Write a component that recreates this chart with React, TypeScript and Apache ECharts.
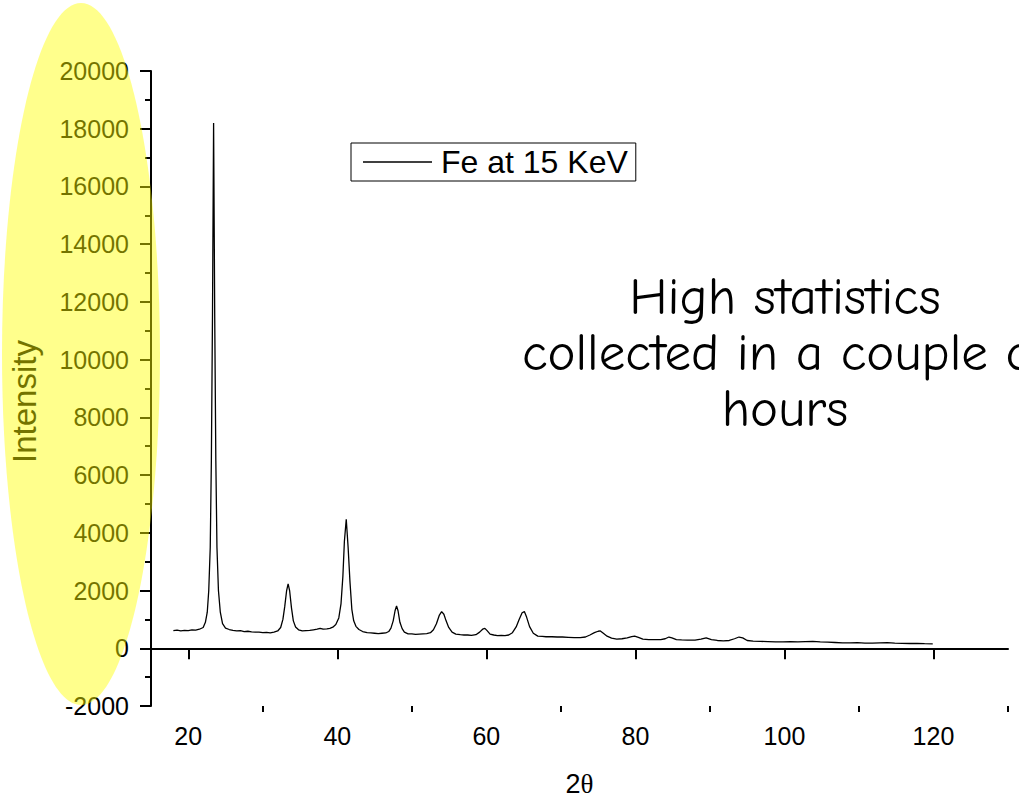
import React, { useEffect, useRef } from "react";
import * as echarts from "echarts";

const twoTheta = [
  18.0, 18.5, 19.0, 19.5, 20.0, 20.5, 21.0, 21.5, 22.0, 22.3, 22.55, 22.75, 22.95, 23.1, 23.25, 23.4, 23.55, 23.7, 23.85, 24.05,
  24.3, 24.6, 25.0, 25.5, 26.0, 26.5, 27.0, 27.5, 28.0, 28.5, 29.0, 29.5, 30.0, 30.5, 31.0, 31.5, 32.0, 32.4, 32.7, 32.95,
  33.2, 33.4, 33.6, 33.85, 34.1, 34.4, 34.8, 35.3, 35.8, 36.3, 36.8, 37.3, 37.7, 38.1, 38.6, 39.0, 39.4, 39.8, 40.2, 40.5,
  40.75, 40.95, 41.2, 41.45, 41.7, 41.95, 42.2, 42.5, 42.9, 43.4, 44.0, 44.5, 45.0, 45.5, 46.0, 46.5, 46.9, 47.2, 47.5, 47.75,
  47.95, 48.15, 48.4, 48.7, 49.0, 49.5, 50.0, 50.5, 51.0, 51.5, 52.0, 52.5, 52.9, 53.3, 53.7, 54.0, 54.3, 54.6, 54.95, 55.4,
  55.9, 56.5, 57.0, 57.5, 58.0, 58.6, 59.1, 59.5, 59.8, 60.1, 60.5, 61.0, 61.5, 62.0, 62.5, 63.0, 63.5, 64.0, 64.4, 64.8,
  65.1, 65.4, 65.8, 66.3, 66.9, 67.5, 68.0, 68.8, 69.5, 70.2, 71.0, 71.8, 72.6, 73.3, 73.9, 74.5, 75.0, 75.3, 75.7, 76.2,
  76.8, 77.5, 78.2, 78.9, 79.5, 79.9, 80.4, 81.0, 81.8, 82.6, 83.4, 84.0, 84.5, 84.9, 85.5, 86.2, 87.0, 88.0, 88.8, 89.5,
  90.2, 91.0, 91.8, 92.6, 93.3, 93.9, 94.4, 95.0, 95.8, 96.8, 97.8, 98.8, 99.8, 100.8, 101.8, 102.8, 103.8, 104.8, 105.8, 106.8,
  107.8, 108.8, 109.8, 110.8, 111.8, 112.8, 113.8, 114.8, 115.8, 116.8, 117.8, 118.8, 119.9,
];

const intensity = [
  610, 630, 600, 620, 610, 640, 630, 660, 720, 900, 1250, 2000, 3500, 6500, 11500, 18200, 11500, 6500, 3500, 2000,
  1250, 850, 700, 650, 620, 600, 610, 580, 590, 570, 560, 560, 540, 550, 530, 560, 600, 720, 1000, 1450,
  2000, 2230, 2000, 1400, 950, 740, 640, 600, 610, 620, 640, 660, 690, 660, 670, 690, 730, 820, 1050, 1550,
  2500, 3700, 4470, 3500, 2300, 1350, 950, 760, 650, 580, 540, 530, 520, 510, 520, 530, 580, 700, 950, 1300,
  1470, 1300, 900, 680, 560, 500, 500, 480, 490, 500, 510, 540, 640, 850, 1150, 1270, 1180, 950, 720, 560,
  490, 470, 460, 460, 450, 470, 560, 660, 690, 610, 490, 460, 440, 450, 440, 460, 540, 740, 1000, 1230,
  1270, 1080, 750, 520, 420, 410, 400, 400, 390, 390, 380, 370, 370, 390, 460, 540, 590, 600, 520, 420,
  350, 320, 330, 360, 400, 420, 380, 320, 300, 300, 300, 330, 390, 360, 300, 290, 280, 280, 320, 360,
  300, 270, 255, 270, 330, 390, 360, 270, 250, 240, 230, 220, 220, 230, 220, 230, 240, 220, 210, 200,
  190, 185, 195, 180, 180, 190, 195, 180, 170, 165, 170, 160, 155,
];

const seriesName = "Fe at 15 KeV";
const xMajorTicks = [20, 40, 60, 80, 100, 120];
const xMinorTicks = [30, 50, 70, 90, 110, 130];
const yTicks = { min: -2000, max: 20000, interval: 2000 };
const noteText = "High statistics\ncollected in a couple of\nhours";

const FONT = "'Liberation Sans', Arial, sans-serif";

export default function App() {
  const ref = useRef<HTMLDivElement>(null);

  useEffect(() => {
    if (!ref.current) return;
    const chart = echarts.init(ref.current, null, { renderer: "svg" });
    const data = twoTheta.map((x, i) => [x, intensity[i]]);

    chart.setOption({
      animation: false,
      backgroundColor: "#ffffff",
      grid: { left: 147, right: 11, top: 71, bottom: 97, containLabel: false },
      legend: {
        left: 351,
        top: 143,
        padding: [3, 8, 3, 12],
        borderColor: "#000",
        borderWidth: 1,
        icon: "rect",
        itemWidth: 69,
        itemHeight: 1.3,
        data: [seriesName],
        itemStyle: { color: "#000" },
        textStyle: { fontFamily: FONT, fontSize: 32, color: "#000", padding: [0, 0, 0, 4] },
      },
      xAxis: [
        {
          type: "value",
          min: 15,
          max: 130,
          position: "bottom",
          name: "{a|2}{b|θ}",
          nameLocation: "middle",
          nameGap: 64,
          nameTextStyle: {
            rich: {
              a: { fontFamily: FONT, fontSize: 27, color: "#000" },
              b: { fontFamily: "'Liberation Serif', 'DejaVu Serif', serif", fontSize: 27, color: "#000" },
            },
          },
          axisLine: { show: true, lineStyle: { color: "#000", width: 2 } },
          axisTick: { show: true, length: 11, lineStyle: { color: "#000", width: 2 }, customValues: xMajorTicks },
          axisLabel: {
            fontFamily: FONT,
            fontSize: 25,
            color: "#000",
            margin: 17,
            customValues: xMajorTicks,
          },
          splitLine: { show: false },
        },
        {
          type: "value",
          min: 15,
          max: 130,
          position: "bottom",
          axisLine: { show: false },
          axisTick: { show: true, length: 6, lineStyle: { color: "#000", width: 2 }, customValues: xMinorTicks },
          axisLabel: { show: false },
          splitLine: { show: false },
        },
      ],
      yAxis: {
        type: "value",
        min: yTicks.min,
        max: yTicks.max,
        interval: yTicks.interval,
        name: "Intensity",
        nameLocation: "middle",
        nameGap: 110,
        nameRotate: 90,
        nameTextStyle: { fontFamily: FONT, fontSize: 33, color: "#000", padding: [0, 26, 0, 0] },
        axisLine: { show: true, lineStyle: { color: "#000", width: 2 } },
        axisTick: { show: true, length: 11, lineStyle: { color: "#000", width: 2 } },
        minorTick: { show: true, splitNumber: 2, length: 6, lineStyle: { color: "#000", width: 2 } },
        axisLabel: {
          fontFamily: FONT,
          fontSize: 25,
          color: "#000",
          margin: 22,
          formatter: (v: number) => String(v),
        },
        splitLine: { show: false },
        minorSplitLine: { show: false },
      },
      series: [
        {
          name: seriesName,
          type: "line",
          xAxisIndex: 0,
          data,
          symbol: "none",
          showSymbol: false,
          lineStyle: { color: "#000", width: 1.3 },
          itemStyle: { color: "#000" },
        },
      ],
      graphic: [
        {
          type: "text",
          x: 785,
          y: 352,
          z: 50,
          style: {
            text: noteText,
            textAlign: "center",
            textVerticalAlign: "middle",
            verticalAlign: "middle",
            fontFamily: "'Comic Sans MS', 'Comic Neue', 'Noto Sans', sans-serif",
            fontSize: 53,
            lineHeight: 56,
            fill: "#000",
          },
        },
        {
          type: "ellipse",
          z: 100,
          shape: { cx: 81, cy: 354, rx: 79, ry: 351 },
          style: { fill: "rgba(255,255,0,0.45)" },
          silent: true,
        },
      ],
    });

    return () => chart.dispose();
  }, []);

  return (
    <div
      ref={ref}
      style={{ position: "absolute", left: 0, top: 0, width: 1019, height: 803, overflow: "hidden" }}
    />
  );
}
